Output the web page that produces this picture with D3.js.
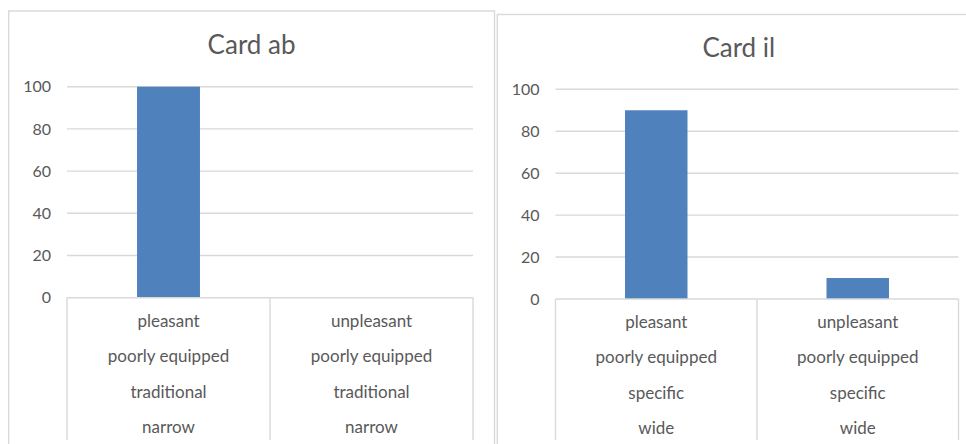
<!DOCTYPE html>
<html>
<head>
<meta charset="utf-8">
<script src="https://cdn.jsdelivr.net/npm/d3@7"></script>
<style>
  html, body { margin: 0; padding: 0; background: #fff; }
  svg { display: block; }
  text { font-family: Lato, "Open Sans", sans-serif; fill: #595959; }
</style>
</head>
<body>
<svg id="chart" width="966" height="444"></svg>
<script>
// Chart data
const yTicks = [0, 20, 40, 60, 80, 100];

const abTitle = "Card ab";
const abCategories = [
  ["pleasant", "poorly equipped", "traditional", "narrow"],
  ["unpleasant", "poorly equipped", "traditional", "narrow"]
];
const abValues = [100, 0];

const ilTitle = "Card il";
const ilCategories = [
  ["pleasant", "poorly equipped", "specific", "wide"],
  ["unpleasant", "poorly equipped", "specific", "wide"]
];
const ilValues = [90, 10];

const svg = d3.select("#chart");
const gridColor = "#d9d9d9";
const barColor = "#4f81bd";

function drawPanel(cfg) {
  const g = svg.append("g");

  // outer chart frame
  g.append("rect")
    .attr("x", cfg.frame.x).attr("y", cfg.frame.y)
    .attr("width", cfg.frame.w).attr("height", cfg.frame.h)
    .attr("fill", "#fff").attr("stroke", gridColor).attr("stroke-width", 1.4);

  // title
  g.append("text")
    .attr("x", cfg.frame.x + cfg.frame.w / 2)
    .attr("y", cfg.titleY)
    .attr("text-anchor", "middle")
    .style("font-size", "26px")
    .text(cfg.title);

  const x = d3.scaleBand()
    .domain(d3.range(cfg.values.length))
    .range([cfg.x0, cfg.x1])
    .padding(0);

  const y = d3.scaleLinear()
    .domain([0, 100])
    .range([cfg.y0, cfg.y100]);

  // horizontal gridlines
  g.append("g").selectAll("line")
    .data(yTicks.filter(d => d > 0))
    .join("line")
    .attr("x1", cfg.x0).attr("x2", cfg.x1)
    .attr("y1", d => y(d)).attr("y2", d => y(d))
    .attr("stroke", gridColor).attr("stroke-width", 1.4);

  // value axis labels
  const yAxis = d3.axisLeft(y).tickValues(yTicks).tickSize(0).tickPadding(16);
  const ya = g.append("g")
    .attr("transform", `translate(${cfg.x0},0)`)
    .call(yAxis);
  ya.select(".domain").remove();
  ya.selectAll("text")
    .style("font-size", "16px")
    .attr("fill", "#595959");

  // bars
  const barW = x.bandwidth() * 0.31;
  g.append("g").selectAll("rect")
    .data(cfg.values)
    .join("rect")
    .attr("x", (d, i) => x(i) + (x.bandwidth() - barW) / 2)
    .attr("width", barW)
    .attr("y", d => y(d))
    .attr("height", d => y(0) - y(d))
    .attr("fill", barColor);

  // category axis: baseline and divider boxes
  g.append("line")
    .attr("x1", cfg.x0).attr("x2", cfg.x1)
    .attr("y1", y(0)).attr("y2", y(0))
    .attr("stroke", gridColor).attr("stroke-width", 1.4);

  const dividers = d3.range(cfg.values.length + 1).map(i =>
    i < cfg.values.length ? x(i) : cfg.x1);
  g.append("g").selectAll("line")
    .data(dividers)
    .join("line")
    .attr("x1", d => d).attr("x2", d => d)
    .attr("y1", y(0)).attr("y2", cfg.dividerBottom)
    .attr("stroke", gridColor).attr("stroke-width", 1.4);

  // multi-level category labels
  const cat = g.append("g").selectAll("g")
    .data(cfg.categories)
    .join("g")
    .attr("transform", (d, i) => `translate(${x(i) + x.bandwidth() / 2},0)`);
  cat.selectAll("text")
    .data(d => d)
    .join("text")
    .attr("text-anchor", "middle")
    .attr("y", (d, j) => cfg.labelBase + j * 35.4)
    .style("font-size", "17px")
    .text(d => d);
}

drawPanel({
  title: abTitle, categories: abCategories, values: abValues,
  frame: { x: 8.7, y: 11, w: 485.8, h: 460 },
  titleY: 53.5,
  x0: 67, x1: 473, y0: 297.7, y100: 86.7,
  dividerBottom: 440, labelBase: 327
});

drawPanel({
  title: ilTitle, categories: ilCategories, values: ilValues,
  frame: { x: 497.3, y: 14.5, w: 483, h: 460 },
  titleY: 56.5,
  x0: 555.5, x1: 958.5, y0: 299, y100: 89.3,
  dividerBottom: 440, labelBase: 328
});
</script>
</body>
</html>
